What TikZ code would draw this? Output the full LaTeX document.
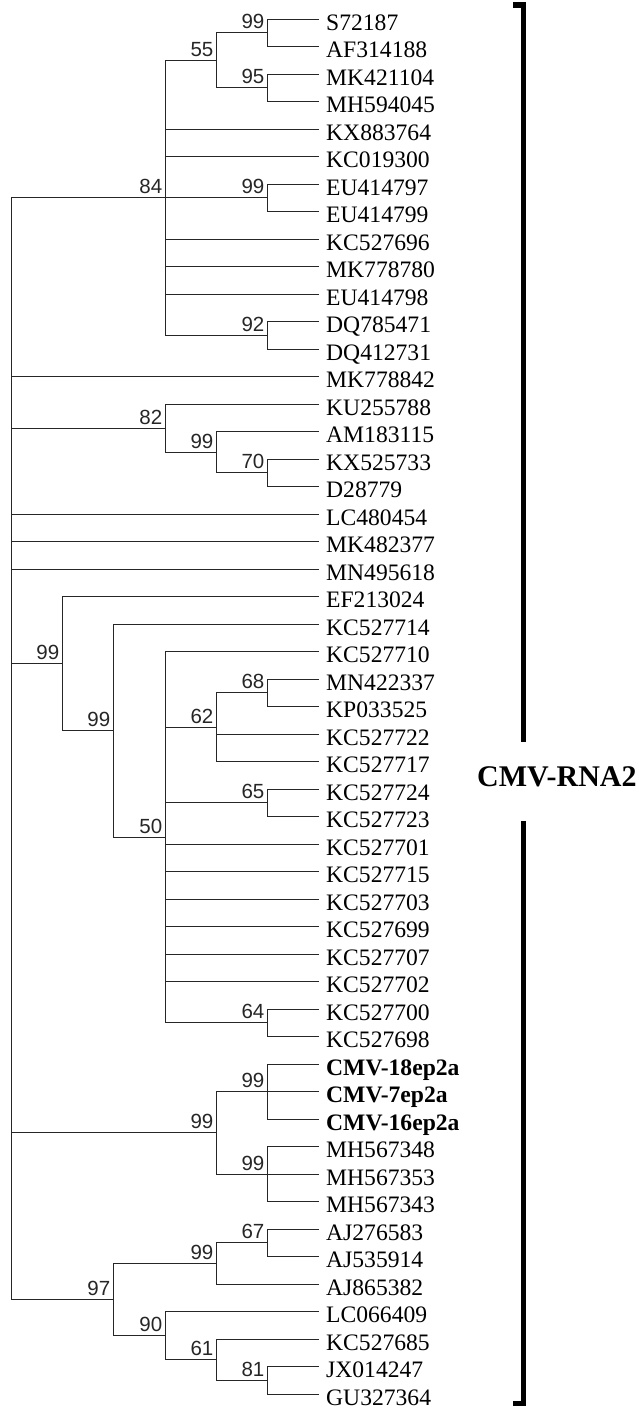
\documentclass[tikz,border=0pt]{standalone}
\usepackage{fontspec}
\newfontfamily\leaffont{Liberation Serif}
\newfontfamily\bootfont{Liberation Sans}
\begin{document}
\begin{tikzpicture}[x=1pt,y=-1pt,
  br/.style={line width=1.25pt, draw=black!85, line cap=rect},
  leaf/.style={font=\leaffont\fontsize{23.6}{24}\selectfont, inner sep=0pt, anchor=base west},
  boot/.style={font=\bootfont\fontsize{20.5}{21}\selectfont, inner sep=0pt, anchor=base east, text=black!85},
  bracket/.style={line width=5.5pt, draw=black},
  title/.style={font=\leaffont\bfseries\fontsize{30}{30}\selectfont, inner sep=0pt, anchor=west}]
\useasboundingbox (0,0) rectangle (639,1412);
% leaves
\foreach \n [count=\i] in {S72187,AF314188,MK421104,MH594045,KX883764,KC019300,EU414797,EU414799,KC527696,MK778780,EU414798,DQ785471,DQ412731,MK778842,KU255788,AM183115,KX525733,D28779,LC480454,MK482377,MN495618,EF213024,KC527714,KC527710,MN422337,KP033525,KC527722,KC527717,KC527724,KC527723,KC527701,KC527715,KC527703,KC527699,KC527707,KC527702,KC527700,KC527698,{\bfseries CMV-18ep2a},{\bfseries CMV-7ep2a},{\bfseries CMV-16ep2a},MH567348,MH567353,MH567343,AJ276583,AJ535914,AJ865382,LC066409,KC527685,JX014247,GU327364}{
  \coordinate (l\i) at (318,{floor(19+27.5*(\i-1))+0.5});
  \node[leaf] (t\i) at ([xshift=8pt,yshift=-11pt]l\i) {\n};
}
% internal nodes
\coordinate (root) at (11.5,748.5);
\coordinate (n84) at (165.5,197.5);
\coordinate (n55) at (216.5,60.5);
\coordinate (n99a) at (267.5,32.5);
\coordinate (n95) at (267.5,87.5);
\coordinate (n99b) at (267.5,197.5);
\coordinate (n92) at (267.5,335.5);
\coordinate (n82) at (165.5,428.5);
\coordinate (n99c) at (216.5,452.5);
\coordinate (n70) at (267.5,472.5);
\coordinate (n99d) at (62.5,663.5);
\coordinate (n99e) at (113.5,730.5);
\coordinate (n50) at (165.5,837.5);
\coordinate (n62) at (216.5,727.5);
\coordinate (n68) at (267.5,692.5);
\coordinate (n65) at (267.5,802.5);
\coordinate (n64) at (267.5,1022.5);
\coordinate (n99f) at (216.5,1132.5);
\coordinate (n99g) at (267.5,1091.5);
\coordinate (n99h) at (267.5,1174.5);
\coordinate (n97) at (113.5,1299.5);
\coordinate (n99i) at (216.5,1263.5);
\coordinate (n67) at (267.5,1242.5);
\coordinate (n90) at (165.5,1335.5);
\coordinate (n61) at (216.5,1359.5);
\coordinate (n81) at (267.5,1380.5);
% branches
\foreach \c in {n84,l14,n82,l19,l20,l21,n99d,n99f,n97} \draw[br] (root) |- (\c);
\foreach \c in {n55,l5,l6,n99b,l9,l10,l11,n92} \draw[br] (n84) |- (\c);
\foreach \c in {n99a,n95} \draw[br] (n55) |- (\c);
\foreach \c in {l1,l2} \draw[br] (n99a) |- (\c);
\foreach \c in {l3,l4} \draw[br] (n95) |- (\c);
\foreach \c in {l7,l8} \draw[br] (n99b) |- (\c);
\foreach \c in {l12,l13} \draw[br] (n92) |- (\c);
\foreach \c in {l15,n99c} \draw[br] (n82) |- (\c);
\foreach \c in {l16,n70} \draw[br] (n99c) |- (\c);
\foreach \c in {l17,l18} \draw[br] (n70) |- (\c);
\foreach \c in {l22,n99e} \draw[br] (n99d) |- (\c);
\foreach \c in {l23,n50} \draw[br] (n99e) |- (\c);
\foreach \c in {l24,n62,n65,l31,l32,l33,l34,l35,l36,n64} \draw[br] (n50) |- (\c);
\foreach \c in {n68,l27,l28} \draw[br] (n62) |- (\c);
\foreach \c in {l25,l26} \draw[br] (n68) |- (\c);
\foreach \c in {l29,l30} \draw[br] (n65) |- (\c);
\foreach \c in {l37,l38} \draw[br] (n64) |- (\c);
\foreach \c in {n99g,n99h} \draw[br] (n99f) |- (\c);
\foreach \c in {l39,l40,l41} \draw[br] (n99g) |- (\c);
\foreach \c in {l42,l43,l44} \draw[br] (n99h) |- (\c);
\foreach \c in {n99i,n90} \draw[br] (n97) |- (\c);
\foreach \c in {n67,l47} \draw[br] (n99i) |- (\c);
\foreach \c in {l45,l46} \draw[br] (n67) |- (\c);
\foreach \c in {l48,n61} \draw[br] (n90) |- (\c);
\foreach \c in {l49,n81} \draw[br] (n61) |- (\c);
\foreach \c in {l50,l51} \draw[br] (n81) |- (\c);
% bootstrap values
\foreach \c/\v in {n84/84,n55/55,n99a/99,n95/95,n99b/99,n92/92,n82/82,n99c/99,n70/70,n99d/99,n99e/99,n50/50,n62/62,n68/68,n65/65,n64/64,n99f/99,n99g/99,n99h/99,n97/97,n99i/99,n67/67,n90/90,n61/61,n81/81}
  \node[boot] (b\c) at ([xshift=-3pt,yshift=4pt]\c) {\v};
% bracket and title
\coordinate (bt) at (513,4.8);
\coordinate (bu) at (523.7,742);
\coordinate (bl) at (523.7,821);
\coordinate (bb) at (513,1403.5);
\draw[bracket] (bt) -| (bu);
\draw[bracket] (bl) |- (bb);
\node[title] (ttl) at (477,777) {CMV-RNA2};
\end{tikzpicture}
\end{document}
